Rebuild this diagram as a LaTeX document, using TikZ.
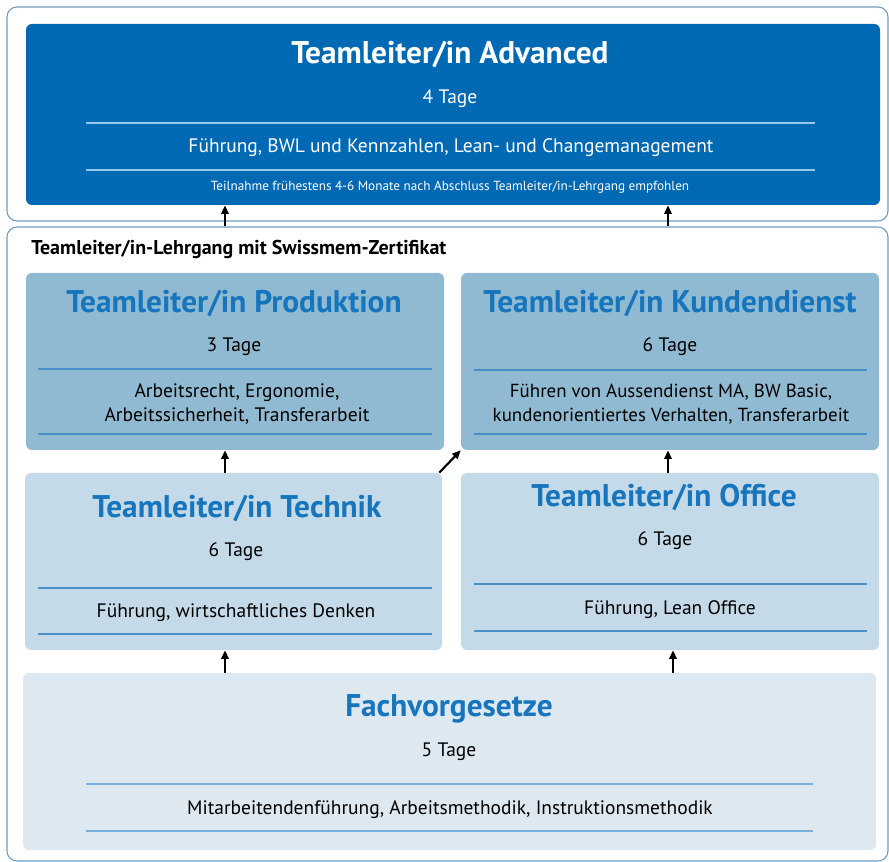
\documentclass[tikz,border=0pt]{standalone}
\usepackage{fontspec}
\setmainfont{PT Sans}
\usetikzlibrary{fit,arrows.meta}
\definecolor{advblue}{RGB}{0,105,180}
\definecolor{titleblue}{RGB}{22,117,188}
\definecolor{prodfill}{RGB}{143,186,209}
\definecolor{techfill}{RGB}{196,218,232}
\definecolor{fachfill}{RGB}{221,232,241}
\definecolor{framecol}{RGB}{110,155,190}
\definecolor{sepdark}{RGB}{74,144,200}
\definecolor{seplight}{RGB}{150,200,235}
\definecolor{sepfach}{RGB}{120,175,220}
\tikzset{
  frame/.style={draw=framecol, line width=0.8pt, rounded corners=7.5pt, inner sep=0pt, fit={#1}},
  box/.style={rounded corners=4.5pt, inner sep=0pt, draw=none},
  ttl/.style={font=\fontsize{23.5}{26}\selectfont\bfseries, text=titleblue, anchor=center, inner sep=0pt, yshift=-1.5pt},
  txt/.style={font=\fontsize{14.6}{17.5}\selectfont, anchor=center, inner sep=0pt, align=center, yshift=-0.8pt},
  sep/.style={line width=0.8pt},
  arr/.style={line width=1.6pt, -{Triangle[length=6.5pt,width=5.5pt]}}
}
\begin{document}
\begin{tikzpicture}[x=0.75pt,y=-0.75pt]
\useasboundingbox (0,0) rectangle (889,862);
% frames
\node[frame={(7,7) (888,221)}] (topframe) {};
\node[frame={(7,227) (888,861)}] (lowframe) {};
% boxes
\node[box, fill=advblue, fit={(26,24) (880,205)}] (adv) {};
\node[box, fill=prodfill, fit={(26,273) (444,450)}] (prod) {};
\node[box, fill=prodfill, fit={(461,273) (879,450)}] (kund) {};
\node[box, fill=techfill, fit={(25,473) (442,650)}] (tech) {};
\node[box, fill=techfill, fit={(461,473) (879,650)}] (office) {};
\node[box, fill=fachfill, fit={(23,673) (876,850)}] (fach) {};
% separator lines
\draw[sep, seplight] (86,123) -- (815,123);
\draw[sep, seplight] (86,170) -- (815,170);
\draw[sep, sepdark] (38,369) -- (432,369);
\draw[sep, sepdark] (38,434) -- (432,434);
\draw[sep, sepdark] (474,370) -- (867,370);
\draw[sep, sepdark] (474,434) -- (867,434);
\draw[sep, sepdark] (38,588) -- (432,588);
\draw[sep, sepdark] (38,634) -- (432,634);
\draw[sep, sepdark] (474,584) -- (867,584);
\draw[sep, sepdark] (474,631) -- (867,631);
\draw[sep, sepfach] (86,784) -- (813,784);
\draw[sep, sepfach] (86,831) -- (813,831);
% texts: advanced
\node[ttl, text=white] (advt) at (450,53) {Teamleiter/in Advanced};
\node[txt, text=white] (advd) at (450,98) {4 Tage};
\node[txt, text=white] (advc) at (451,147) {Führung, BWL und Kennzahlen, Lean- und Changemanagement};
\node[txt, text=white, font=\fontsize{9.9}{11}\selectfont] (advn) at (450,186) {Teilnahme frühestens 4-6 Monate nach Abschluss Teamleiter/in-Lehrgang empfohlen};
% label
\node[anchor=west, inner sep=0pt, font=\fontsize{15}{17}\selectfont\bfseries, yshift=-0.6pt] (lbl) at (31,249) {Teamleiter/in-Lehrgang mit Swissmem-Zertifikat};
% produktion
\node[ttl] (prodt) at (234,302) {Teamleiter/in Produktion};
\node[txt] (prodd) at (234,346) {3 Tage};
\node[txt] (prodc) at (237,403) {Arbeitsrecht, Ergonomie,\\Arbeitssicherheit, Transferarbeit};
% kundendienst
\node[ttl] (kundt) at (670,302) {Teamleiter/in Kundendienst};
\node[txt] (kundd) at (670,346) {6 Tage};
\node[txt, font=\fontsize{14.2}{17.5}\selectfont] (kundc) at (671,403) {Führen von Aussendienst MA, BW Basic,\\kundenorientiertes Verhalten, Transferarbeit};
% technik
\node[ttl] (techt) at (237,507) {Teamleiter/in Technik};
\node[txt] (techd) at (236,551) {6 Tage};
\node[txt] (techc) at (236,612) {Führung, wirtschaftliches Denken};
% office
\node[ttl] (offt) at (664,496) {Teamleiter/in Office};
\node[txt] (offd) at (665,540) {6 Tage};
\node[txt] (offc) at (670,609) {Führung, Lean Office};
% fach
\node[ttl] (facht) at (449,707) {Fachvorgesetze};
\node[txt] (fachd) at (449,751) {5 Tage};
\node[txt] (fachc) at (450,809) {Mitarbeitendenführung, Arbeitsmethodik, Instruktionsmethodik};
% arrows
\draw[arr] (225,0 |- lowframe.north) -- (225,0 |- adv.south);
\draw[arr] (668,0 |- lowframe.north) -- (668,0 |- adv.south);
\draw[arr] (225,0 |- tech.north) -- (225,0 |- prod.south);
\draw[arr] (668,0 |- office.north) -- (668,0 |- kund.south);
\draw[arr] (tech.north east) ++(-3,0) coordinate (dstart) -- (kund.south west);
\draw[arr] (225,0 |- fach.north) -- (225,0 |- tech.south);
\draw[arr] (673,0 |- fach.north) -- (673,0 |- office.south);
\end{tikzpicture}
\end{document}
